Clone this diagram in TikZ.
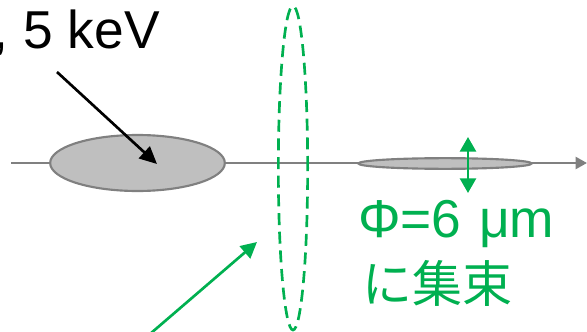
\documentclass[tikz,border=0pt]{standalone}
\usepackage{fontspec}
\setmainfont{Liberation Sans}
\newfontfamily\jpfont{Noto Sans CJK JP}
\usetikzlibrary{arrows.meta,shapes.geometric}
\definecolor{axisgray}{RGB}{128,128,128}
\definecolor{beamfill}{RGB}{191,191,191}
\definecolor{pgreen}{RGB}{0,176,80}
\tikzset{
  beam/.style={ellipse, draw=axisgray, fill=beamfill, line width=1.6pt, inner sep=0pt},
  bigtext/.style={font=\fontsize{40}{48}\selectfont, inner sep=0pt},
  greenarrow/.style={draw=pgreen, line width=2pt, -{Triangle[length=12pt,width=12pt]}},
}
\begin{document}
\begin{tikzpicture}[x=0.75pt,y=-0.75pt]
\useasboundingbox (0,0) rectangle (587,332);
\clip (0,0) rectangle (587,332);
% axis
\coordinate (axs) at (11,163);
\coordinate (axe) at (587,163);
\draw[axisgray, line width=1.7pt, -{Triangle[length=8.5pt,width=9pt]}] (axs) -- (axe);
% beams
\node[beam, minimum width=131pt, minimum height=42pt] (big) at (137.5,163) {};
\node[beam, minimum width=130pt, minimum height=8pt] (small) at (445,163.5) {};
% focusing lens (dashed)
\node[ellipse, draw=pgreen, line width=2pt, dash pattern=on 9pt off 5pt, minimum width=22pt, minimum height=243pt, inner sep=0pt] (lens) at (293,168) {};
% label top-left
\node[bigtext, anchor=base west] (energy) at (-6.5,48) {, 5 keV};
\coordinate (bstart) at (57,72);
\coordinate (btip) at (157,164);
\draw[black, line width=2pt, -{Triangle[length=13pt,width=12pt]}] (bstart) -- (btip);
% size arrow
\coordinate (sa) at (468,137);
\coordinate (sb) at (468,193);
\draw[draw=pgreen, line width=2pt, {Triangle[length=11pt,width=12pt]}-{Triangle[length=11pt,width=12pt]}] (sa) -- (sb);
% green label
\node[bigtext, anchor=base west, text=pgreen] (phi) at (358,238) {Φ=6\hspace{0.33em}μm};
\node[anchor=base west, inner sep=0pt, text=pgreen, font=\jpfont\fontsize{37.5}{45}\selectfont] (jp) at (362,302) {に集束};
% lower-left arrow
\coordinate (gstart) at (150,334);
\coordinate (gtip) at (257,242);
\draw[greenarrow] (gstart) -- (gtip);
\end{tikzpicture}
\end{document}
